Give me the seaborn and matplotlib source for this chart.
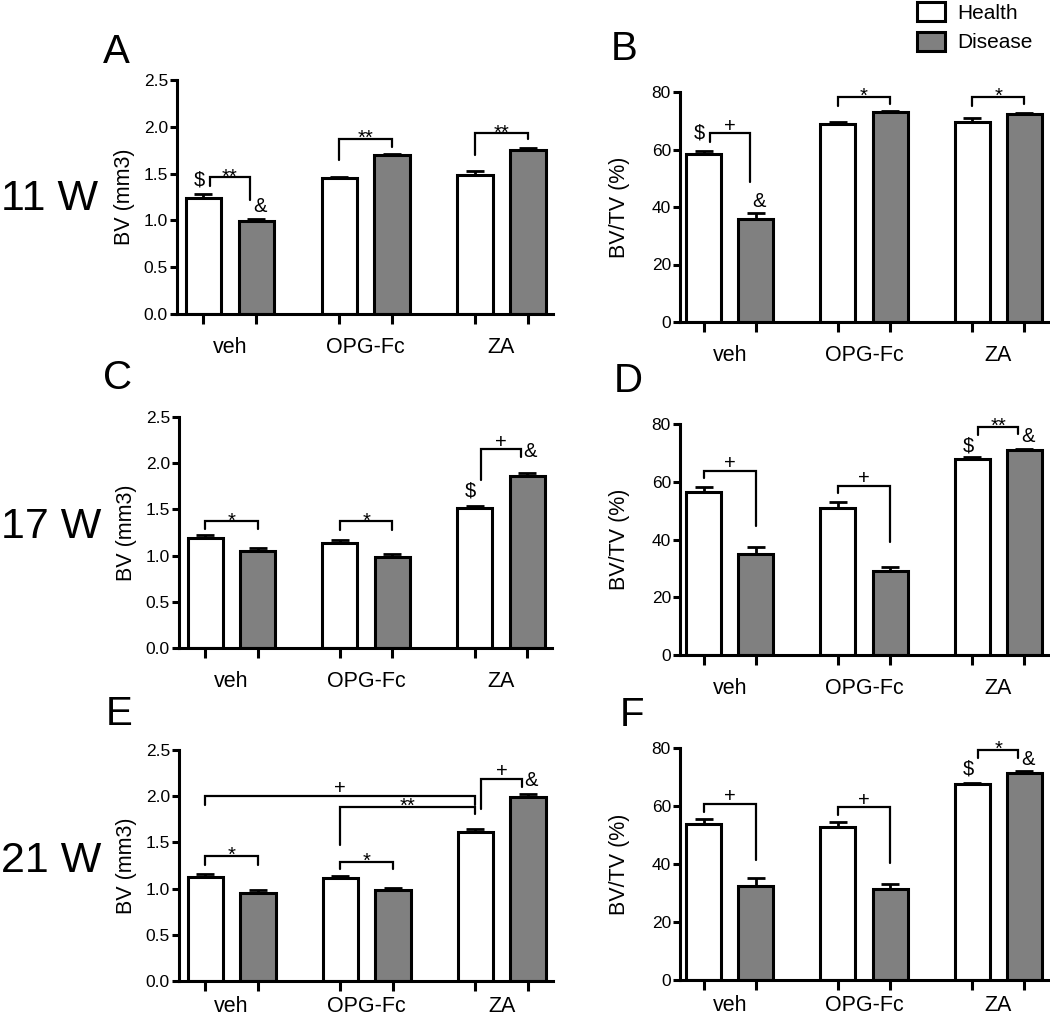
import numpy as np
import pandas as pd
import matplotlib
matplotlib.use("Agg")
import matplotlib.pyplot as plt
from matplotlib.patches import Patch
from matplotlib.ticker import FormatStrFormatter
import seaborn as sns

groups = ["veh", "OPG-Fc", "ZA"]
conditions = ["Health", "Disease"]

# bar heights and SEM (upper error)
a_health = [1.24, 1.45, 1.49]
a_health_err = [0.04, 0.015, 0.04]
a_disease = [0.99, 1.70, 1.75]
a_disease_err = [0.03, 0.01, 0.025]

b_health = [58.4, 68.9, 69.7]
b_health_err = [1.2, 0.5, 1.1]
b_disease = [35.8, 72.9, 72.2]
b_disease_err = [2.2, 0.4, 0.6]

c_health = [1.19, 1.14, 1.52]
c_health_err = [0.03, 0.03, 0.02]
c_disease = [1.05, 0.98, 1.86]
c_disease_err = [0.03, 0.035, 0.03]

d_health = [56.4, 50.8, 67.8]
d_health_err = [1.9, 2.2, 0.7]
d_disease = [34.9, 29.2, 71.0]
d_disease_err = [2.4, 1.4, 0.5]

e_health = [1.13, 1.11, 1.61]
e_health_err = [0.03, 0.03, 0.04]
e_disease = [0.95, 0.98, 1.99]
e_disease_err = [0.04, 0.03, 0.03]

f_health = [53.8, 52.6, 67.6]
f_health_err = [1.6, 2.0, 0.5]
f_disease = [32.5, 31.4, 71.3]
f_disease_err = [2.8, 1.7, 0.8]

# significance brackets: (left bar, right bar, top, left leg end, right leg end, label)
# a bar is (group index, condition index)
a_brackets = [((0, 0), (0, 1), 1.46, 1.37, 1.22, "**"),
              ((1, 0), (1, 1), 1.87, 1.64, 1.78, "**"),
              ((2, 0), (2, 1), 1.93, 1.70, 1.87, "**")]
b_brackets = [((0, 0), (0, 1), 65.6, 62.7, 48.6, "+"),
              ((1, 0), (1, 1), 78.2, 75.1, 75.8, "*"),
              ((2, 0), (2, 1), 78.2, 75.1, 75.8, "*")]
c_brackets = [((0, 0), (0, 1), 1.37, 1.285, 1.29, "*"),
              ((1, 0), (1, 1), 1.37, 1.28, 1.28, "*"),
              ((2, 0), (2, 1), 2.15, 1.82, 2.07, "+")]
d_brackets = [((0, 0), (0, 1), 63.7, 61.2, 44.8, "+"),
              ((1, 0), (1, 1), 58.5, 56.0, 39.2, "+"),
              ((2, 0), (2, 1), 79.1, 76.2, 76.6, "**")]
e_brackets = [((0, 0), (0, 1), 1.35, 1.26, 1.26, "*"),
              ((1, 0), (1, 1), 1.29, 1.21, 1.21, "*"),
              ((0, 0), (2, 0), 2.00, 1.91, 1.91, "+"),
              ((1, 0), (2, 0), 1.88, 1.47, 1.81, "**"),
              ((2, 0), (2, 1), 2.19, 1.86, 2.10, "+")]
f_brackets = [((0, 0), (0, 1), 60.6, 57.8, 41.4, "+"),
              ((1, 0), (1, 1), 59.5, 56.9, 40.2, "+"),
              ((2, 0), (2, 1), 79.3, 76.4, 76.6, "*")]

# "$" / "&" marks: (group, condition, height)
a_marks = [(0, 0, 1.43), (0, 1, 1.15)]
b_marks = [(0, 0, 65.6), (0, 1, 41.8)]
c_marks = [(2, 0, 1.70), (2, 1, 2.13)]
d_marks = [(2, 0, 72.5), (2, 1, 75.6)]
e_marks = [(2, 1, 2.17)]
f_marks = [(2, 0, 72.6), (2, 1, 75.9)]

mark_symbol = {0: "$", 1: "&"}
gray = "#808080"
LW = 2.2

sns.set_style("ticks")
plt.rcParams["font.family"] = ["Liberation Sans", "DejaVu Sans"]
for key in ["text.color", "axes.labelcolor", "xtick.color", "ytick.color",
            "axes.edgecolor"]:
    plt.rcParams[key] = "black"

fig = plt.figure(figsize=(10.5, 10.19), dpi=100)
W, H = 1050, 1019


def box(x0, x1, top, bottom):
    return [x0 / W, 1 - bottom / H, (x1 - x0) / W, (bottom - top) / H]


def draw_panel(rect, xlim, health, health_err, disease, disease_err,
               ymax, ystep, fmt, ylabel, label_x, brackets, marks, label_pad=16.5):
    ax = fig.add_axes(rect)
    df = pd.DataFrame({
        "group": groups * 2,
        "condition": [conditions[0]] * 3 + [conditions[1]] * 3,
        "value": list(health) + list(disease),
    })
    sns.barplot(data=df, x="group", y="value", hue="condition",
                order=groups, hue_order=conditions,
                palette={"Health": "white", "Disease": gray},
                edgecolor="black", linewidth=LW, saturation=1,
                width=0.78, gap=0.333, errorbar=None, legend=False, ax=ax)

    centers = []
    for cont in ax.containers:
        centers.append([b.get_x() + b.get_width() / 2 for b in cont])
    centers = np.array(centers)  # [condition, group]

    for k, (vals, errs) in enumerate([(health, health_err), (disease, disease_err)]):
        ax.errorbar(centers[k], vals, yerr=[np.zeros(3), errs], fmt="none",
                    ecolor="black", elinewidth=2, capsize=6.5, capthick=2,
                    zorder=1)

    marked_groups = {m[0] for m in marks}
    for (g1, c1), (g2, c2), top, yb1, yb2, lab in brackets:
        x1 = centers[c1, g1]
        x2 = centers[c2, g2]
        if g1 == g2 and g1 in marked_groups:
            x1 += 0.045
            x2 -= 0.045
        ax.plot([x1, x1, x2, x2], [yb1, top, top, yb2], color="black",
                lw=1.6, clip_on=False, solid_joinstyle="miter")
        off = -3.6 if "*" in lab else 1.3
        ax.annotate(lab, ((x1 + x2) / 2, top), xytext=(0, off),
                    textcoords="offset points", ha="center", va="baseline",
                    fontsize=14.5, annotation_clip=False)

    for g, c, yv in marks:
        dx = -0.03 if c == 0 else 0.025
        ax.text(centers[c, g] + dx, yv, mark_symbol[c], ha="center",
                va="center", fontsize=14.5, clip_on=False)

    ax.set_xlim(*xlim)
    ax.set_ylim(0, ymax)
    ax.set_yticks(np.arange(0, ymax + ystep / 2, ystep))
    ax.yaxis.set_major_formatter(FormatStrFormatter(fmt))
    ax.set_xticks(centers.T.flatten())
    ax.set_xticklabels([])
    ax.set_xticks([0, 1, 2], minor=True)
    ax.set_xticklabels(groups, minor=True, fontsize=15.5)
    ax.tick_params(axis="x", which="major", length=7, width=LW, direction="out")
    ax.tick_params(axis="x", which="minor", length=0, pad=label_pad)
    ax.tick_params(axis="y", length=5, width=LW, labelsize=12.5, pad=1.5)
    ax.set_xlabel("")
    ax.set_ylabel(ylabel, fontsize=15.5)
    ax.yaxis.set_label_coords(label_x, 0.5)
    sns.despine(ax=ax)
    for s in ["left", "bottom"]:
        ax.spines[s].set_linewidth(LW)
    return ax


left_x = (-0.39, 2.38)
right_x = (-0.37, 2.37)

draw_panel(box(177, 553, 80, 314), left_x, a_health, a_health_err, a_disease,
           a_disease_err, 2.5, 0.5, "%.1f", "BV (mm3)", -0.112, a_brackets, a_marks)
draw_panel(box(680, 1048, 92, 322), right_x, b_health, b_health_err, b_disease,
           b_disease_err, 80, 20, "%d", "BV/TV (%)", -0.136, b_brackets, b_marks)
draw_panel(box(179, 552, 417, 648), left_x, c_health, c_health_err, c_disease,
           c_disease_err, 2.5, 0.5, "%.1f", "BV (mm3)", -0.112, c_brackets, c_marks)
draw_panel(box(680, 1048, 424, 655), right_x, d_health, d_health_err, d_disease,
           d_disease_err, 80, 20, "%d", "BV/TV (%)", -0.136, d_brackets, d_marks)
draw_panel(box(179, 553, 750, 981), left_x, e_health, e_health_err, e_disease,
           e_disease_err, 2.5, 0.5, "%.1f", "BV (mm3)", -0.112, e_brackets, e_marks,
           label_pad=10.5)
draw_panel(box(680, 1048, 748, 980), right_x, f_health, f_health_err, f_disease,
           f_disease_err, 80, 20, "%d", "BV/TV (%)", -0.136, f_brackets, f_marks,
           label_pad=10.5)

# panel letters and row labels
for letter, px, py in [("A", 116, 52), ("B", 624, 49), ("C", 118, 378),
                       ("D", 628, 381), ("E", 119, 714), ("F", 632, 715)]:
    fig.text(px / W, 1 - py / H, letter, fontsize=29, ha="center", va="center")

for lab, py in [("11 W", 199), ("17 W", 527), ("21 W", 861)]:
    fig.text(1 / W, 1 - py / H, lab, fontsize=31, ha="left", va="center")

handles = [Patch(facecolor="white", edgecolor="black", linewidth=LW, label="Health"),
           Patch(facecolor=gray, edgecolor="black", linewidth=LW, label="Disease")]
fig.legend(handles=handles, loc="upper left", bbox_to_anchor=(915 / W, 1.0),
           frameon=False, fontsize=15, handlelength=1.35, handleheight=1.0,
           handletextpad=0.6, labelspacing=0.45, borderpad=0.1, borderaxespad=0)

fig.savefig("out.png", dpi=100)
